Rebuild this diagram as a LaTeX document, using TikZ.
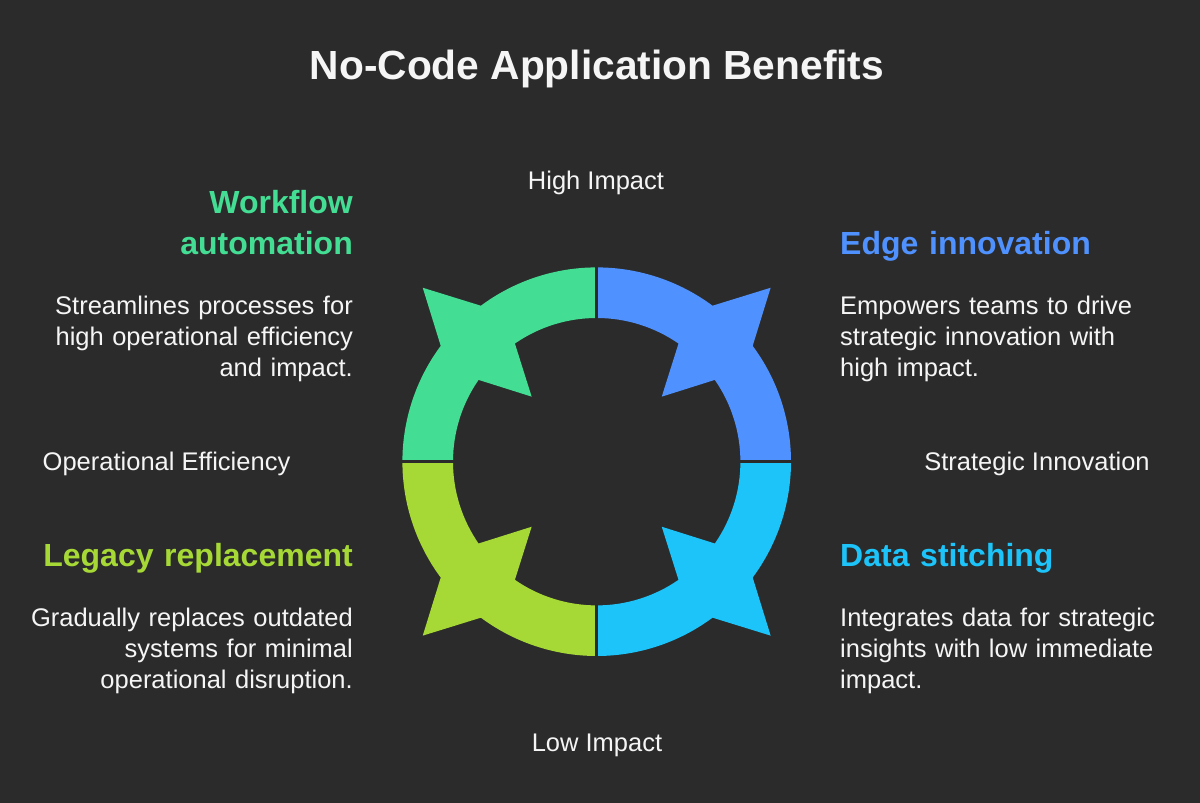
\documentclass[tikz,border=0pt]{standalone}
\usepackage{fontspec}
\setmainfont{Liberation Sans}
\definecolor{bg}{HTML}{2B2B2B}
\definecolor{txt}{HTML}{F5F5F5}
\definecolor{cgreen}{HTML}{43DE94}
\definecolor{cblue}{HTML}{4F92FF}
\definecolor{ccyan}{HTML}{1CC4F9}
\definecolor{clime}{HTML}{A6D936}
\newcommand{\ringpiece}[2]{%
  \fill[#2] (#1-45:194.3pt) arc[start angle=#1-45, end angle=#1-8.4, radius=194.3pt]
    -- (#1:246pt) -- (#1+8.4:194.3pt)
    arc[start angle=#1+8.4, end angle=#1+45, radius=194.3pt]
    -- (#1+45:143.7pt)
    arc[start angle=#1+45, end angle=#1+10.3, radius=143.7pt]
    -- (#1:92pt) -- (#1-10.3:143.7pt)
    arc[start angle=#1-10.3, end angle=#1-45, radius=143.7pt] -- cycle;}
\begin{document}
\begin{tikzpicture}[x=1pt,y=1pt,
  body/.style={font=\fontsize{25.5}{31}\selectfont, text=txt, inner sep=0pt, text width=340pt},
  head/.style={font=\bfseries\fontsize{32}{41}\selectfont, inner sep=0pt, text width=340pt},
  lbl/.style={font=\fontsize{25.5}{31}\selectfont, text=txt, inner sep=0pt},
  sep/.style={draw=bg, line width=2.5pt}]
\fill[bg] (0,0) rectangle (1200,803);
\useasboundingbox (0,0) rectangle (1200,803);

\node[font=\bfseries\fontsize{40.7}{48}\selectfont, text=txt, inner sep=0pt, anchor=base] (title) at (597,723) {No-Code Application Benefits};

\begin{scope}[shift={(596.7,341.3)}]
  \ringpiece{135}{cgreen}
  \ringpiece{45}{cblue}
  \ringpiece{-45}{ccyan}
  \ringpiece{225}{clime}
  \coordinate (vt) at (0,197);
  \coordinate (vb) at (0,-197);
  \coordinate (hl) at (-197,0);
  \coordinate (hr) at (197,0);
  \draw[sep] (vt) -- (vb);
  \draw[sep] (hl) -- (hr);
\end{scope}

\node[lbl, anchor=base] (high) at (596,613.7) {High Impact};
\node[lbl, anchor=base] (low) at (597,51.3) {Low Impact};
\node[lbl, anchor=base] (opeff) at (166.5,332.3) {Operational Efficiency};
\node[lbl, anchor=base] (strinn) at (1037,332.3) {Strategic Innovation};

\node[head, text=cgreen, align=right, anchor=base east] (wfh) at (353,589) {Workflow\\automation};
\node[body, align=right, anchor=base east] (wfb) at (353,488) {Streamlines processes for\\high operational efficiency\\and impact.};

\node[head, text=cblue, align=left, anchor=base west] (edh) at (840,548) {Edge innovation};
\node[body, align=left, anchor=base west] (edb) at (840,488.5) {Empowers teams to drive\\strategic innovation with\\high impact.};

\node[head, text=clime, align=right, anchor=base east] (lgh) at (353,236.3) {Legacy replacement};
\node[body, align=right, anchor=base east] (lgb) at (353,176.3) {Gradually replaces outdated\\systems for minimal\\operational disruption.};

\node[head, text=ccyan, align=left, anchor=base west] (dsh) at (840,236.3) {Data stitching};
\node[body, align=left, anchor=base west] (dsb) at (840,176.3) {Integrates data for strategic\\insights with low immediate\\impact.};
\end{tikzpicture}
\end{document}
